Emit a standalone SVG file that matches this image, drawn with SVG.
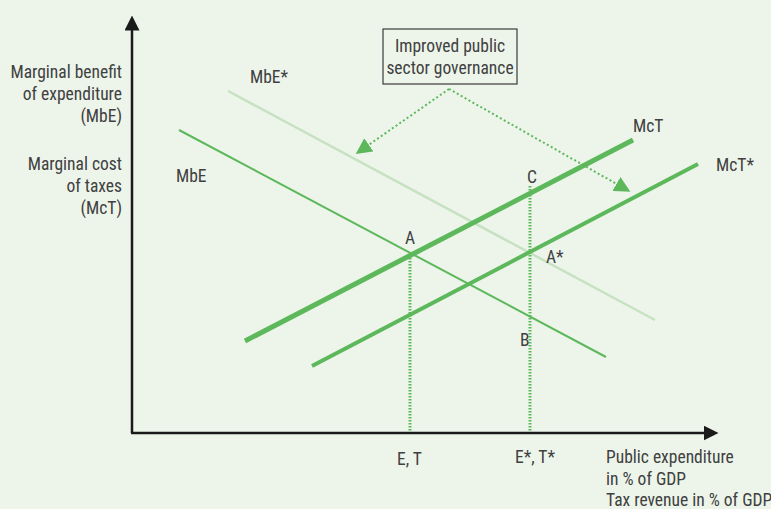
<svg xmlns="http://www.w3.org/2000/svg" width="771" height="509" viewBox="0 0 771 509">
  <defs>
    <style>
      text { font-family: "Liberation Sans Narrow", "Roboto Condensed", "Liberation Sans", sans-serif; font-size: 17.5px; fill: #404040; }
      .axis { stroke: #1a1a1a; stroke-width: 2.5; fill: none; }
      .curve { stroke: #5cb85a; fill: none; stroke-linecap: butt; }
      .guide { stroke: #5cb85a; stroke-width: 3; stroke-dasharray: 1.5 1.5; fill: none; }
      .shift { stroke: #5cb85a; stroke-width: 2; stroke-dasharray: 2 2.5; fill: none; }
    </style>
    <marker id="axisHead" viewBox="0 0 10 10" refX="1" refY="5" markerWidth="6" markerHeight="6" markerUnits="strokeWidth" orient="auto">
      <path d="M0,0 L10,5 L0,10 Z" fill="#1a1a1a"/>
    </marker>
    <marker id="shiftHead" viewBox="0 0 10 10" refX="9" refY="5" markerWidth="8" markerHeight="8" markerUnits="strokeWidth" orient="auto">
      <path d="M0,0 L10,5 L0,10 Z" fill="#5cb85a"/>
    </marker>
  </defs>

  <rect width="771" height="509" fill="#edf5eb"/>

  <!-- axes -->
  <g id="axes">
    <line class="axis" x1="132" y1="433" x2="132" y2="29" marker-end="url(#axisHead)"/>
    <line class="axis" x1="131" y1="433" x2="705" y2="433" marker-end="url(#axisHead)"/>
  </g>

  <!-- axis titles -->
  <g id="y-labels" text-anchor="end">
    <text x="122" y="78">Marginal benefit</text>
    <text x="122" y="100">of expenditure</text>
    <text x="122" y="122">(MbE)</text>
    <text x="122" y="170">Marginal cost</text>
    <text x="122" y="192">of taxes</text>
    <text x="122" y="214">(McT)</text>
  </g>
  <g id="x-labels">
    <text x="606" y="463">Public expenditure</text>
    <text x="606" y="485">in % of GDP</text>
    <text x="606" y="506">Tax revenue in % of GDP</text>
    <text x="397" y="465">E, T</text>
    <text x="515" y="463">E*, T*</text>
  </g>

  <!-- curves -->
  <g id="connectors">
    <line class="curve" x1="228" y1="91" x2="655" y2="320" style="stroke:#c6e2c2;stroke-width:2.5"/>
    <line class="curve" x1="179" y1="130" x2="606" y2="357" stroke-width="2"/>
    <line class="curve" x1="245" y1="341" x2="633" y2="140" stroke-width="5"/>
    <line class="curve" x1="312" y1="366" x2="698" y2="164" stroke-width="4"/>
    <line class="guide" x1="410" y1="255" x2="410" y2="432"/>
    <line class="guide" x1="530" y1="186" x2="530" y2="432"/>
    <polyline class="shift" points="449,89 357,153" marker-end="url(#shiftHead)"/>
    <polyline class="shift" points="449,89 629,191" marker-end="url(#shiftHead)"/>
  </g>

  <!-- curve labels -->
  <g id="curve-labels">
    <text x="250" y="83">MbE*</text>
    <text x="176" y="182">MbE</text>
    <text x="633" y="132">McT</text>
    <text x="716" y="171">McT*</text>
    <text x="405" y="244">A</text>
    <text x="546" y="263">A*</text>
    <text x="527" y="183">C</text>
    <text x="520" y="346">B</text>
  </g>

  <!-- annotation box -->
  <g id="governance-box">
    <rect x="383" y="29" width="134" height="55" fill="none" stroke="#3a3a3a" stroke-width="1.2"/>
    <text x="450" y="52" text-anchor="middle">Improved public</text>
    <text x="450" y="74" text-anchor="middle">sector governance</text>
  </g>
</svg>
